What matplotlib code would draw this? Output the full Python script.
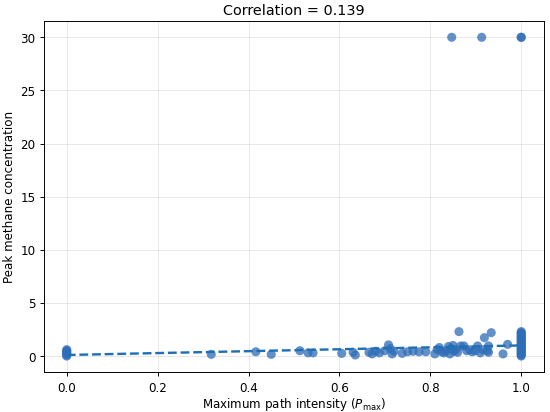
import numpy as np
import matplotlib
matplotlib.use("Agg")
import matplotlib.pyplot as plt

# Maximum path intensity (P_max) and peak methane concentration
x_zero = [0.0] * 7
y_zero = [0.0, 0.1, 0.2, 0.3, 0.4, 0.5, 0.6]

x_mid = [0.318, 0.416, 0.45, 0.513, 0.531, 0.542, 0.605, 0.63, 0.635,
         0.665, 0.672, 0.68, 0.688, 0.70, 0.708, 0.712, 0.716, 0.72,
         0.738, 0.75, 0.762, 0.775, 0.79, 0.81, 0.815, 0.82, 0.825,
         0.83, 0.835, 0.84, 0.843, 0.846, 0.85, 0.852, 0.856, 0.86,
         0.863, 0.867, 0.874, 0.88, 0.886, 0.892, 0.898, 0.904, 0.91,
         0.915, 0.919, 0.925, 0.928, 0.928, 0.934, 0.96, 0.97]
y_mid = [0.16, 0.4, 0.16, 0.5, 0.3, 0.3, 0.25, 0.35, 0.1,
         0.35, 0.2, 0.45, 0.3, 0.5, 1.05, 0.7, 0.2, 0.45,
         0.25, 0.4, 0.45, 0.4, 0.4, 0.2, 0.6, 0.8, 0.4,
         0.3, 0.5, 0.9, 0.2, 0.7, 1.0, 0.45, 0.6, 0.35,
         2.3, 0.95, 0.95, 0.5, 0.6, 0.4, 0.5, 0.95, 0.3,
         0.6, 1.73, 0.5, 0.95, 0.35, 2.2, 0.2, 1.1]

x_one = [1.0] * 24
y_one = [0.0, 0.1, 0.2, 0.3, 0.4, 0.5, 0.6, 0.7, 0.8, 0.9, 1.0, 1.1,
         1.2, 1.3, 1.4, 1.5, 1.6, 1.7, 1.8, 1.9, 2.0, 2.1, 2.2, 2.3]

x_top = [0.847, 0.913, 1.0, 1.0]
y_top = [30.0, 30.0, 30.0, 30.0]

x = np.array(x_zero + x_mid + x_one + x_top)
y = np.array(y_zero + y_mid + y_one + y_top)

corr_label = "Correlation = 0.139"
# fitted trend line
fit_intercept = 0.1
fit_slope = 0.9

fig = plt.figure(figsize=(6.4, 4.8), dpi=550 / 6.4)
ax = fig.add_axes([0.08, 0.097, 0.909, 0.85])

ax.scatter(x, y, s=58, color="#2e6db8", alpha=0.75, edgecolors="none", zorder=3)
xs = np.array([x.min(), x.max()])
ax.plot(xs, fit_intercept + fit_slope * xs, linestyle="--", color="#1f6fb4",
        linewidth=2, zorder=4)

ax.grid(True, alpha=0.3)
ax.set_axisbelow(True)
ax.tick_params(axis="x", pad=4.5)
ax.set_xlabel("Maximum path intensity ($P_{\\mathrm{max}}$)", labelpad=1)
ax.set_ylabel("Peak methane concentration")
ax.set_title(corr_label)
ax.set_yticks([0, 5, 10, 15, 20, 25, 30])

fig.savefig("out.png", dpi=550 / 6.4)
